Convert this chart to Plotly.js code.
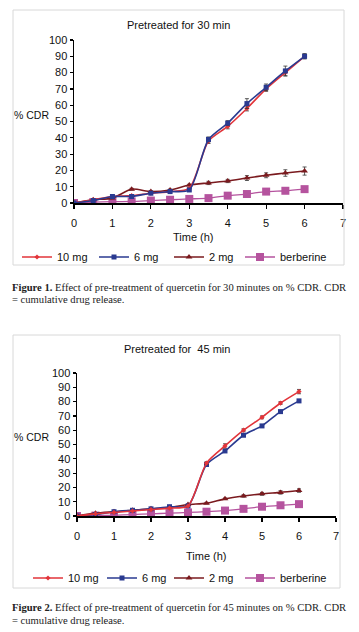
<!DOCTYPE html>
<html><head><meta charset="utf-8">
<script src="https://cdn.plot.ly/plotly-3.0.1.min.js"></script>
<style>html,body{margin:0;padding:0;background:#fff;}#g{width:359px;height:632px;}</style>
</head><body><div id="g"></div>
<script>
const time = [0,0.5,1,1.5,2,2.5,3,3.5,4,4.5,5,5.5,6];
const seriesNames = ['10 mg','6 mg','2 mg','berberine'];
// Figure 1 – pretreated 30 min
const f1_10mg = [0,2,4,4.5,6,7,9,38,47,58,70,80,90];
const f1_6mg  = [0,1.5,4,4,6,7,8,39,49,61,71,81,90];
const f1_2mg  = [0,2,3,8.5,7,8,11,12.3,13.5,15.3,17,18.4,19.6];
const f1_berb = [0,0.5,0.8,1,1.5,2,2.5,3,4.5,5.5,7,7.5,8.5];
const f1_10mg_err = [0,0.5,0.5,0.5,0.5,0.5,0.5,1.5,1.5,1.5,1.5,2,1.5];
const f1_6mg_err  = [0,0.5,0.5,0.5,0.5,0.5,0.5,1.5,1.5,3,2,3,1.5];
const f1_2mg_err  = [0,0.5,0.5,0.5,0.5,0.5,0.5,1,1,1.5,1.5,2,2.5];
const f1_berb_err = [0,0.3,0.3,0.3,0.3,0.3,0.3,0.3,0.5,0.5,0.5,0.5,0.5];
// Figure 2 – pretreated 45 min
const f2_10mg = [0,1.5,2.5,3.5,4.5,5.5,7,37,49,60,69,79,87];
const f2_6mg  = [0,1,3,4,5,6.5,7,36,45.5,56.5,63,73,80.5];
const f2_2mg  = [0,2,3,4,5,6,8,9,12,14,15.5,16.5,17.8];
const f2_berb = [0,0.3,0.5,1,1.5,2,2.5,3,3.8,5,6.5,7.5,8.3];
const f2_10mg_err = [0,0.3,0.3,0.3,0.3,0.3,0.3,1,1.5,1,1,1,1.5];
const f2_6mg_err  = [0,0.3,0.3,0.3,0.3,0.3,0.3,1,1,1,1,1,1];
const f2_2mg_err  = [0,0.3,0.3,0.3,0.3,0.3,0.3,0.5,0.5,0.8,1,1.2,1.2];
const f2_berb_err = [0,0.2,0.2,0.2,0.2,0.2,0.2,0.3,0.3,0.3,0.3,0.3,0.3];

const xTicks = [0,1,2,3,4,5,6,7];
const yTicks = [0,10,20,30,40,50,60,70,80,90,100];

const styles = [
  {color:'#E2343A', symbol:'diamond', size:4, lw:1.6},
  {color:'#2A3A90', symbol:'square', size:5, lw:1.6},
  {color:'#7A1A1E', symbol:'triangle-up', size:6, lw:1.6},
  {color:'#B5539E', symbol:'square', size:8, lw:1.3}
];

function mk(vals, errs, i, xa, ya, leg){
  const s = styles[i];
  return {x:time, y:vals, type:'scatter', mode:'lines+markers', name:seriesNames[i],
    xaxis:xa, yaxis:ya, legend:leg,
    line:{color:s.color, width:s.lw, shape:'spline', smoothing:0.7},
    marker:{color:s.color, symbol:s.symbol, size:s.size},
    error_y:{type:'data', array:errs, visible:true, color:'#333', thickness:0.8, width:2}};
}
const data = [
  mk(f1_berb,f1_berb_err,3,'x','y','legend4'),
  mk(f1_2mg,f1_2mg_err,2,'x','y','legend3'),
  mk(f1_10mg,f1_10mg_err,0,'x','y','legend'),
  mk(f1_6mg,f1_6mg_err,1,'x','y','legend2'),
  mk(f2_berb,f2_berb_err,3,'x2','y2','legend8'),
  mk(f2_2mg,f2_2mg_err,2,'x2','y2','legend7'),
  mk(f2_6mg,f2_6mg_err,1,'x2','y2','legend6'),
  mk(f2_10mg,f2_10mg_err,0,'x2','y2','legend5')
];

const W=359,H=632;
const px=v=>v/W, py=v=>1-v/H;
const tickFont={family:'Liberation Sans, Arial, sans-serif', size:11, color:'#111'};
function xax(dom, anchor){return {domain:dom, anchor:anchor, range:[0,7], tickvals:xTicks, ticks:'outside', ticklen:4, tickwidth:1.2, tickcolor:'#000', showline:true, linecolor:'#000', linewidth:1.5, showgrid:false, zeroline:false, tickfont:tickFont, ticklabelstandoff:5, fixedrange:true};}
function yax(dom, anchor){return {domain:dom, anchor:anchor, range:[0,100], tickvals:yTicks, ticks:'outside', ticklen:3, tickwidth:1.2, tickcolor:'#000', showline:true, linecolor:'#000', linewidth:1.5, showgrid:false, zeroline:false, tickfont:tickFont, fixedrange:true};}
const legFont={family:'Liberation Sans, Arial, sans-serif', size:11, color:'#111'};
function leg(x,y){return {orientation:'h', x:px(x), xanchor:'left', y:py(y), yanchor:'middle', font:legFont, itemwidth:30, bgcolor:'rgba(0,0,0,0)'};}
const ann=(x,y,text,size)=>({xref:'paper',yref:'paper',x:px(x),y:py(y),xanchor:'center',yanchor:'middle',borderpad:0,text:text,showarrow:false,font:{family:'Liberation Sans, Arial, sans-serif',size:size,color:'#111'}});
const cap=(x,y,text)=>({xref:'paper',yref:'paper',x:px(x),y:py(y),xanchor:'left',yanchor:'middle',borderpad:0,text:text,showarrow:false,font:{family:'Liberation Serif, Times New Roman, serif',size:10.6,color:'#222'}});

const layout = {
  width:W, height:H, margin:{l:0,r:0,t:0,b:0}, paper_bgcolor:'#fff', plot_bgcolor:'rgba(0,0,0,0)',
  xaxis: xax([px(74),px(343)],'y'), yaxis: yax([py(203),py(40)],'x'),
  xaxis2: xax([px(77),px(336)],'y2'), yaxis2: yax([py(516),py(373)],'x2'),
  showlegend:true,
  legend:leg(17,257), legend2:leg(94,257), legend3:leg(169,257), legend4:leg(240,257),
  legend5:leg(28,578), legend6:leg(102,578), legend7:leg(169,578), legend8:leg(240,578),
  shapes:[
    {type:'rect',xref:'paper',yref:'paper',x0:px(13),x1:px(344),y0:py(265),y1:py(10),line:{color:'#d8d8d8',width:1}},
    {type:'rect',xref:'paper',yref:'paper',x0:px(13),x1:px(340),y0:py(588),y1:py(335),line:{color:'#d8d8d8',width:1}}
  ],
  annotations:[
    ann(178,25,'Pretreated for 30 min',11),
    ann(31,115,'% CDR',10.5),
    ann(193,237,'Time (h)',11),
    ann(177,349,'Pretreated for  45 min',11),
    ann(31,437,'% CDR',10.5),
    ann(206,556,'Time (h)',11),
    cap(11,287,'<b>Figure 1.</b> Effect of pre-treatment of quercetin for 30 minutes on % CDR. CDR'),
    cap(11,299,'= cumulative drug release.'),
    cap(11,607,'<b>Figure 2.</b> Effect of pre-treatment of quercetin for 45 minutes on % CDR. CDR'),
    cap(11,620,'= cumulative drug release.')
  ]
};
Plotly.newPlot('g', data, layout, {staticPlot:true, displayModeBar:false});
</script></body></html>
